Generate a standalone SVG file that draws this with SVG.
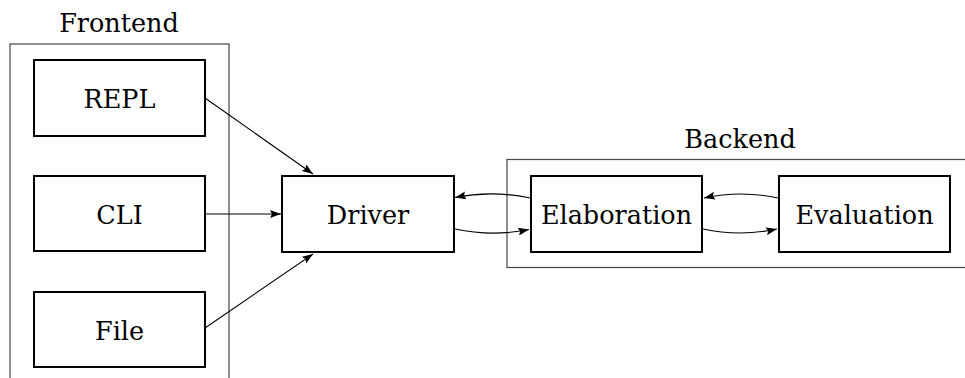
<svg xmlns="http://www.w3.org/2000/svg" width="965" height="378" viewBox="0 0 965 378">
<style>
.cont{fill:none;stroke:#444;stroke-width:1.2}
.box{fill:#fff;stroke:#000;stroke-width:2}
text{font-family:"DejaVu Serif","Liberation Serif",serif;font-size:25.5px;fill:#000;text-anchor:middle}
.ln{fill:none;stroke:#000;stroke-width:1.1;marker-end:url(#ah)}
</style>
<defs>
<marker id="ah" viewBox="0 0 11 8" refX="11" refY="4" markerWidth="11" markerHeight="8" markerUnits="userSpaceOnUse" orient="auto">
<path d="M0,0 L11,4 L0,8 L2,4 Z" fill="#000"/>
</marker>
</defs>
<g id="frontend">
<rect class="cont" x="10" y="44" width="219" height="345"/>
<text x="119" y="32">Frontend</text>
</g>
<g id="backend">
<rect class="cont" x="507" y="159.5" width="470" height="108"/>
<text x="740" y="148">Backend</text>
</g>
<g id="repl"><rect class="box" x="34" y="60" width="171" height="76"/><text x="119.5" y="108">REPL</text></g>
<g id="cli"><rect class="box" x="34" y="176" width="171" height="75"/><text x="119.5" y="224">CLI</text></g>
<g id="file"><rect class="box" x="34" y="292" width="171" height="75"/><text x="119.5" y="340">File</text></g>
<g id="driver"><rect class="box" x="282" y="176" width="172" height="76"/><text x="368" y="224">Driver</text></g>
<g id="elaboration"><rect class="box" x="531" y="176" width="171" height="76"/><text x="616.5" y="224">Elaboration</text></g>
<g id="evaluation"><rect class="box" x="779" y="176" width="171" height="76"/><text x="864.5" y="224">Evaluation</text></g>
<g id="connectors">
<path class="ln" d="M205,98 L313,174"/>
<path class="ln" d="M205,214 L281,214"/>
<path class="ln" d="M205,328 L313,254"/>
<path class="ln" d="M455,229 Q492,237 529,229.5"/>
<path class="ln" d="M530,198 Q492,190 455,197.5"/>
<path class="ln" d="M703,229 Q740,237 777,229"/>
<path class="ln" d="M778,198 Q741,190 704,198"/>
</g>
</svg>
